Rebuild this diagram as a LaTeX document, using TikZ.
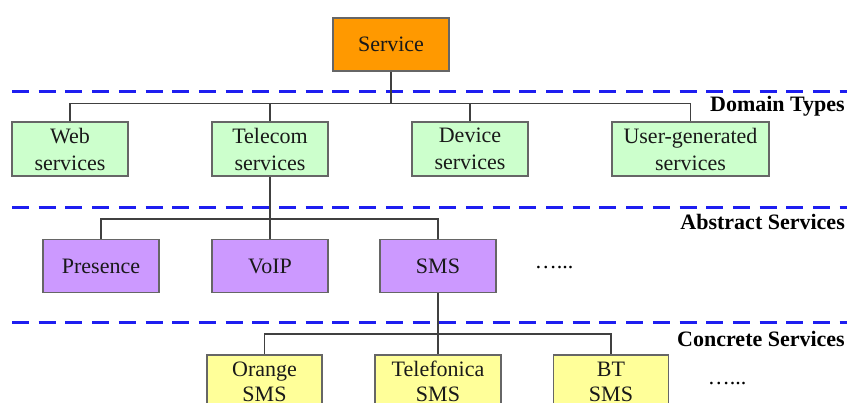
\documentclass[tikz,border=0pt]{standalone}
\usepackage{fontspec}
\setmainfont{Liberation Serif}
\begin{document}
\begin{tikzpicture}[x=1pt,y=-1pt,
  box/.style={draw=black!60,line width=1.3pt,minimum height=53pt,minimum width=116pt,inner sep=0pt,align=center,font=\fontsize{22}{27}\selectfont,text=black!90},
  svcbox/.style={box,fill={rgb,255:red,255;green,153;blue,0}},
  dombox/.style={box,fill={rgb,255:red,204;green,255;blue,204}},
  absbox/.style={box,fill={rgb,255:red,204;green,153;blue,255}},
  conbox/.style={box,fill={rgb,255:red,255;green,255;blue,153},font=\fontsize{22}{25}\selectfont},
  sep/.style={draw={rgb,255:red,30;green,30;blue,240},line width=3pt,dash pattern=on 17pt off 9.7pt},
  conn/.style={draw=black!75,line width=1.2pt},
  layer/.style={font=\fontsize{22}{26}\selectfont\bfseries,anchor=east,inner sep=0pt},
  dots/.style={font=\fontsize{22}{26}\selectfont,inner sep=0pt}]
\useasboundingbox (0,0) rectangle (847,403);
\begin{scope}
\clip (0,0) rectangle (847,403);
% separators
\coordinate (s1a) at (12,92); \coordinate (s1b) at (847,92);
\coordinate (s2a) at (12,207.5); \coordinate (s2b) at (847,207.5);
\coordinate (s3a) at (12,323); \coordinate (s3b) at (847,323);
\draw[sep] (s1a) -- (s1b);
\draw[sep] (s2a) -- (s2b);
\draw[sep] (s3a) -- (s3b);
% bus levels
\coordinate (b1) at (0,103.5);
\coordinate (b2) at (0,219);
\coordinate (b3) at (0,334);
% nodes
\node[svcbox] (svc) at (391,44.5) {Service};
\node[dombox,minimum height=54pt] (web) at (70,149) {Web\\services};
\node[dombox,minimum height=54pt] (tel) at (270,149) {Telecom\\services};
\node[dombox,minimum height=54pt] (dev) at (470,149) {Device\\services};
\node[dombox,minimum height=54pt,minimum width=157pt] (usr) at (690.5,149) {User-generated\\services};
\node[absbox] (pres) at (101,266) {Presence};
\node[absbox] (voip) at (270,266) {VoIP};
\node[absbox] (sms) at (438,266) {SMS};
\node[conbox,minimum width=115pt] (ora) at (264.5,381.5) {Orange\\SMS};
\node[conbox,minimum width=126pt] (tef) at (438,381.5) {Telefonica\\SMS};
\node[conbox,minimum width=115pt] (bt) at (611,381.5) {BT\\SMS};
\node[dots] (d1) at (554,268) {…...};
\node[dots] (d2) at (727,384) {…...};
% layer labels
\node[layer] (l1) at (845,106) {Domain Types};
\node[layer] (l2) at (845,222) {Abstract Services};
\node[layer] (l3) at (845,339) {Concrete Services};
% connectors
\draw[conn] (web.north) |- (b1 -| usr.north) -- (usr.north);
\draw[conn] (svc.south) -- (svc.south |- b1);
\draw[conn] (tel.north) -- (tel.north |- b1);
\draw[conn] (dev.north) -- (dev.north |- b1);
\draw[conn] (tel.south) -- (voip.north);
\draw[conn] (pres.north) |- (b2 -| sms.north) -- (sms.north);
\draw[conn] (sms.south) -- (tef.north);
\draw[conn] (ora.north) |- (b3 -| bt.north) -- (bt.north);
\end{scope}
\end{tikzpicture}
\end{document}
